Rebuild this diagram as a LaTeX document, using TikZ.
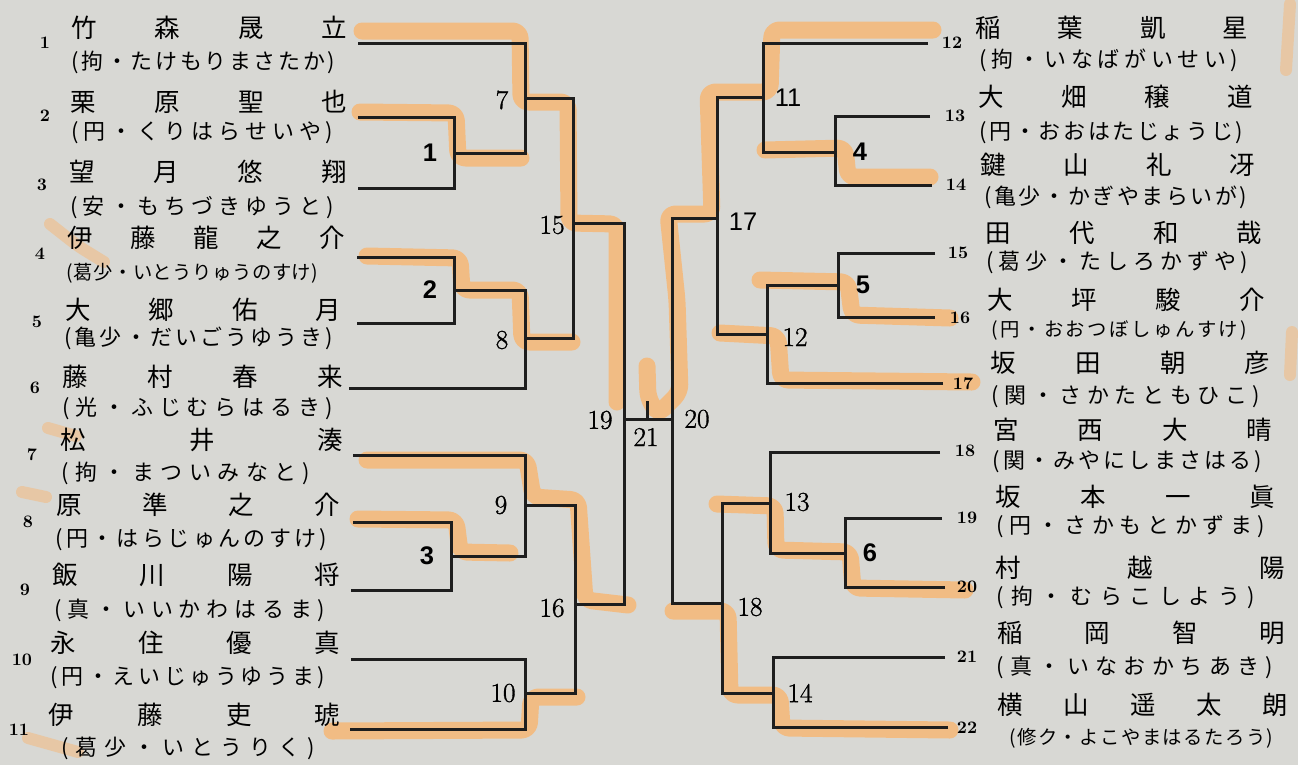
\documentclass[tikz,border=0pt]{standalone}
\usepackage{fontspec}
\setsansfont{Liberation Sans}
\newfontfamily\jp{Noto Sans CJK JP}
\newfontfamily\numfont{Latin Modern Roman}[FakeBold=1.2]
\usetikzlibrary{backgrounds}
\definecolor{Paper}{HTML}{D8D8D4}
\definecolor{Ink}{HTML}{1E1E1E}
\definecolor{Marker}{HTML}{F6B877}
\newlength\px \setlength\px{0.02cm}
\makeatletter
\newcommand\spreadto[2]{\makebox[#1\px][s]{\def\sepr{}\@tfor\chr:=#2\do{\sepr\chr\def\sepr{\hfill}}}}
\makeatother

\begin{document}
\begin{tikzpicture}[x=0.02cm, y=-0.02cm,
  seed/.style   = {font=\bfseries\fontsize{10}{12}\selectfont, inner sep=0pt},
  pname/.style  = {font=\jp\fontsize{14.5}{16}\selectfont, anchor=west, inner sep=0pt},
  yomi/.style   = {font=\jp\fontsize{12.5}{14}\selectfont, anchor=west, inner sep=0pt},
  yomis/.style  = {yomi, font=\jp\fontsize{11}{13}\selectfont},
  rnd/.style    = {font=\numfont\fontsize{15.5}{17}\selectfont, inner sep=0pt},
  rnds/.style   = {font=\sffamily\bfseries\fontsize{14.5}{16}\selectfont, inner sep=0pt},
  rndm/.style   = {font=\sffamily\fontsize{14.5}{16}\selectfont, inner sep=0pt},
  wire/.style   = {draw=Ink, line width=0.06cm},
  marker/.style = {draw=Marker, line width=0.34cm, line cap=round, line join=round,
                   rounded corners=0.15cm, opacity=0.85},
  stray/.style  = {marker, line width=0.24cm, opacity=0.5}
]
  \fill[Paper] (0,0) rectangle (1298,765);
  \useasboundingbox (0,0) rectangle (1298,765);

  % highlighter strokes
  \draw[marker] (362,31) -- (520,31) -- (521,102) -- (568,102) -- (569,223) -- (617,224) -- (617,402);
  \draw[marker] (360,112) -- (456,113) -- (458,158) -- (521,158);
  \draw[marker] (367,256) -- (460,258) -- (462,290) -- (520,290) -- (522,342) -- (572,342);
  \draw[marker] (367,460) -- (527,460) -- (533,497) -- (578,500) -- (585,600) -- (628,605);
  \draw[marker] (358,519) -- (456,520) -- (460,552) -- (510,553);
  \draw[marker] (332,731) -- (529,730) -- (531,697) -- (577,697);
  \draw[marker] (933,30) -- (772,30) -- (770,92) -- (708,92) -- (712,214) -- (668,214)
                -- (677,300) -- (680,392) -- (658,414) -- (648,398) -- (647,366);
  \draw[marker] (930,177) -- (848,177) -- (845,148) -- (765,150);
  \draw[marker] (950,318) -- (852,315) -- (848,282) -- (760,280);
  \draw[marker] (972,382) -- (781,380) -- (778,336) -- (720,333);
  \draw[marker] (965,590) -- (853,588) -- (850,552) -- (776,550) -- (775,506) -- (717,504);
  \draw[marker] (950,730) -- (782,728) -- (780,695) -- (730,695) -- (728,611) -- (673,611);
  \draw[stray] (50,224) -- (78,246) -- (104,262);
  \draw[stray] (48,428) -- (76,436);
  \draw[stray] (22,492) -- (46,497);
  \draw[stray] (28,738) -- (78,752);
  \draw[stray] (1290,4) -- (1286,70);
  \draw[stray] (1292,332) -- (1290,375);

  % left players
  \node[seed] (s1) at (45,43) {1};
  \node[pname] (nm1) at (71,28) {\spreadto{276}{竹森晟立}};
  \node[yomi] (yo1) at (71,62) {\spreadto{264}{(拘・たけもりまさたか)}};
  \node[seed] (s2) at (45,116) {2};
  \node[pname] (nm2) at (70,102) {\spreadto{277}{栗原聖也}};
  \node[yomi] (yo2) at (71,133) {\spreadto{262}{(円・くりはらせいや)}};
  \node[seed] (s3) at (42,185) {3};
  \node[pname] (nm3) at (69,172) {\spreadto{278}{望月悠翔}};
  \node[yomi] (yo3) at (70,207) {\spreadto{264}{(安・もちづきゆうと)}};
  \node[seed] (s4) at (40,254) {4};
  \node[pname] (nm4) at (67,238) {\spreadto{278}{伊藤龍之介}};
  \node[yomis] (yo4) at (66,273) {\spreadto{252}{(葛少・いとうりゅうのすけ)}};
  \node[seed] (s5) at (37,322) {5};
  \node[pname] (nm5) at (65,310) {\spreadto{276}{大郷佑月}};
  \node[yomi] (yo5) at (64,338) {\spreadto{269}{(亀少・だいごうゆうき)}};
  \node[seed] (s6) at (35,388) {6};
  \node[pname] (nm6) at (62,377) {\spreadto{281}{藤村春来}};
  \node[yomi] (yo6) at (62,408) {\spreadto{271}{(光・ふじむらはるき)}};
  \node[seed] (s7) at (32,455) {7};
  \node[pname] (nm7) at (60,440) {\spreadto{283}{松井湊}};
  \node[yomi] (yo7) at (61,473) {\spreadto{249}{(拘・まついみなと)}};
  \node[seed] (s8) at (28,522) {8};
  \node[pname] (nm8) at (56,505) {\spreadto{284}{原準之介}};
  \node[yomi] (yo8) at (55,540) {\spreadto{272}{(円・はらじゅんのすけ)}};
  \node[seed] (s9) at (25,590) {9};
  \node[pname] (nm9) at (52,575) {\spreadto{288}{飯川陽将}};
  \node[yomi] (yo9) at (54,610) {\spreadto{271}{(真・いいかわはるま)}};
  \node[seed] (s10) at (22,660) {10};
  \node[pname] (nm10) at (50,643) {\spreadto{290}{永住優真}};
  \node[yomi] (yo10) at (50,678) {\spreadto{275}{(円・えいじゅうゆうま)}};
  \node[seed] (s11) at (19,730) {11};
  \node[pname] (nm11) at (48,715) {\spreadto{292}{伊藤吏琥}};
  \node[yomi] (yo11) at (61,748) {\spreadto{254}{(葛少・いとうりく)}};

  % right players
  \node[seed] (s12) at (952,43) {12};
  \node[pname] (nm12) at (975,28) {\spreadto{273}{稲葉凱星}};
  \node[yomi] (yo12) at (979,60) {\spreadto{259}{(拘・いなばがいせい)}};
  \node[seed] (s13) at (955,116) {13};
  \node[pname] (nm13) at (978,97) {\spreadto{275}{大畑穣道}};
  \node[yomi] (yo13) at (979,133) {\spreadto{264}{(円・おおはたじょうじ)}};
  \node[seed] (s14) at (956,185) {14};
  \node[pname] (nm14) at (980,165) {\spreadto{275}{鍵山礼冴}};
  \node[yomi] (yo14) at (984,197) {\spreadto{263}{(亀少・かぎやまらいが)}};
  \node[seed] (s15) at (958,253) {15};
  \node[pname] (nm15) at (985,233) {\spreadto{277}{田代和哉}};
  \node[yomi] (yo15) at (986,262) {\spreadto{262}{(葛少・たしろかずや)}};
  \node[seed] (s16) at (960,318) {16};
  \node[pname] (nm16) at (987,300) {\spreadto{278}{大坪駿介}};
  \node[yomis] (yo16) at (991,330) {\spreadto{256}{(円・おおつぼしゅんすけ)}};
  \node[seed] (s17) at (963,384) {17};
  \node[pname] (nm17) at (990,363) {\spreadto{280}{坂田朝彦}};
  \node[yomi] (yo17) at (991,397) {\spreadto{269}{(関・さかたともひこ)}};
  \node[seed] (s18) at (965,451) {18};
  \node[pname] (nm18) at (993,430) {\spreadto{279}{宮西大晴}};
  \node[yomi] (yo18) at (992,462) {\spreadto{270}{(関・みやにしまさはる)}};
  \node[seed] (s19) at (967,518) {19};
  \node[pname] (nm19) at (995,497) {\spreadto{280}{坂本一眞}};
  \node[yomi] (yo19) at (996,527) {\spreadto{269}{(円・さかもとかずま)}};
  \node[seed] (s20) at (967,587) {20};
  \node[pname] (nm20) at (995,568) {\spreadto{290}{村越陽}};
  \node[yomi] (yo20) at (996,597) {\spreadto{259}{(拘・むらこしよう)}};
  \node[seed] (s21) at (967,657) {21};
  \node[pname] (nm21) at (997,633) {\spreadto{288}{稲岡智明}};
  \node[yomi] (yo21) at (996,667) {\spreadto{277}{(真・いなおかちあき)}};
  \node[seed] (s22) at (967,728) {22};
  \node[pname] (nm22) at (997,705) {\spreadto{291}{横山遥太朗}};
  \node[yomis] (yo22) at (1009,738) {\spreadto{264}{(修ク・よこやまはるたろう)}};

  % bracket points
  \coordinate (p1) at (358,43);   \coordinate (p2) at (358,117);
  \coordinate (p3) at (358,188);  \coordinate (p4) at (357,257);
  \coordinate (p5) at (357,323);  \coordinate (p6) at (349,388);
  \coordinate (p7) at (353,455);  \coordinate (p8) at (353,522);
  \coordinate (p9) at (351,590);  \coordinate (p10) at (351,659);
  \coordinate (p11) at (350,729);
  \coordinate (q12) at (928,43);  \coordinate (q13) at (930,116);
  \coordinate (q14) at (932,185); \coordinate (q15) at (935,253);
  \coordinate (q16) at (935,317); \coordinate (q17) at (943,383);
  \coordinate (q18) at (940,452); \coordinate (q19) at (942,518);
  \coordinate (q20) at (945,587); \coordinate (q21) at (945,657);
  \coordinate (q22) at (948,727);

  \coordinate (m1) at (454,153);  \coordinate (m2) at (454,290);
  \coordinate (m3) at (451,556);  \coordinate (m7) at (525,98);
  \coordinate (m8) at (525,338);  \coordinate (m9) at (525,505);
  \coordinate (m10) at (525,693); \coordinate (m15) at (573,223);
  \coordinate (m16) at (575,604); \coordinate (m19) at (624,419);
  \coordinate (m21) at (647,419); \coordinate (t21) at (647,401);
  \coordinate (r4) at (835,152);  \coordinate (r5) at (838,285);
  \coordinate (r6) at (845,553);  \coordinate (r11) at (763,97);
  \coordinate (r12) at (767,334); \coordinate (r13) at (770,503);
  \coordinate (r14) at (773,693); \coordinate (r17) at (717,218);
  \coordinate (r18) at (722,603); \coordinate (m20) at (672,419);

  % left half
  \draw[wire] (p2) -| (m1) (p3) -| (m1);
  \draw[wire] (p1) -| (m7) (m1) -| (m7);
  \draw[wire] (p4) -| (m2) (p5) -| (m2);
  \draw[wire] (m2) -| (m8) (p6) -| (m8);
  \draw[wire] (m7) -| (m15) (m8) -| (m15);
  \draw[wire] (p8) -| (m3) (p9) -| (m3);
  \draw[wire] (p7) -| (m9) (m3) -| (m9);
  \draw[wire] (p10) -| (m10) (p11) -| (m10);
  \draw[wire] (m9) -| (m16) (m10) -| (m16);
  \draw[wire] (m15) -| (m19) (m16) -| (m19);

  % right half
  \draw[wire] (q13) -| (r4) (q14) -| (r4);
  \draw[wire] (q12) -| (r11) (r4) -| (r11);
  \draw[wire] (q15) -| (r5) (q16) -| (r5);
  \draw[wire] (r5) -| (r12) (q17) -| (r12);
  \draw[wire] (r11) -| (r17) (r12) -| (r17);
  \draw[wire] (q19) -| (r6) (q20) -| (r6);
  \draw[wire] (q18) -| (r13) (r6) -| (r13);
  \draw[wire] (q21) -| (r14) (q22) -| (r14);
  \draw[wire] (r13) -| (r18) (r14) -| (r18);
  \draw[wire] (r17) -| (m20) (r18) -| (m20);

  % final
  \draw[wire] (m19) -- (m20);
  \draw[wire] (m21) -- (t21);

  % match numbers
  \node[rnds] (n1) at (430,153) {1};
  \node[rnds] (n2) at (430,290) {2};
  \node[rnds] (n3) at (427,556) {3};
  \node[rnds] (n4) at (860,152) {4};
  \node[rnds] (n5) at (863,285) {5};
  \node[rnds] (n6) at (870,553) {6};
  \node[rnd] (n7) at (502,100) {7};
  \node[rnd] (n8) at (502,340) {8};
  \node[rnd] (n9) at (501,505) {9};
  \node[rnd] (n10) at (503,693) {10};
  \node[rndm] (n11) at (788,98) {11};
  \node[rnd] (n12) at (795,337) {12};
  \node[rnd] (n13) at (797,502) {13};
  \node[rnd] (n14) at (800,693) {14};
  \node[rnd] (n15) at (552,225) {15};
  \node[rnd] (n16) at (552,608) {16};
  \node[rndm] (n17) at (743,222) {17};
  \node[rnd] (n18) at (750,607) {18};
  \node[rnd] (n19) at (600,420) {19};
  \node[rnd] (n20) at (697,419) {20};
  \node[rnd] (n21) at (646,437) {21};
\end{tikzpicture}
\end{document}
